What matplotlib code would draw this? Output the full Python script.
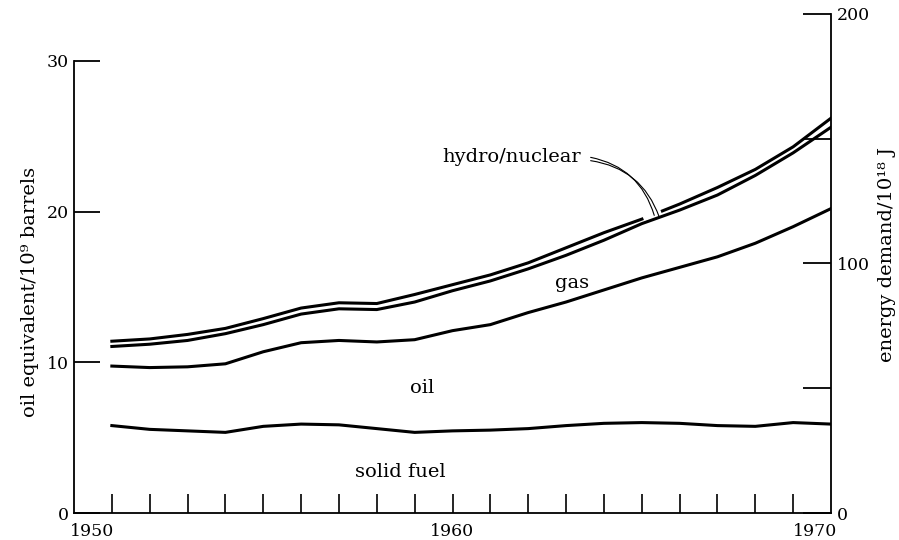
import numpy as np
import matplotlib
matplotlib.use("Agg")
import matplotlib.pyplot as plt

plt.rcParams['font.family'] = ['DejaVu Serif']

# years and stacked totals (oil equivalent / 10^9 barrels)
years = np.arange(1951, 1971)
solid_fuel = [5.8, 5.55, 5.45, 5.35, 5.75, 5.9, 5.85, 5.6, 5.35, 5.45,
              5.5, 5.6, 5.8, 5.95, 6.0, 5.95, 5.8, 5.75, 6.0, 5.9]
oil_top = [9.75, 9.65, 9.7, 9.9, 10.7, 11.3, 11.45, 11.35, 11.5, 12.1,
           12.5, 13.3, 14.0, 14.8, 15.6, 16.3, 17.0, 17.9, 19.0, 20.2]
gas_top = [11.05, 11.2, 11.45, 11.9, 12.5, 13.2, 13.55, 13.5, 14.0, 14.75,
           15.4, 16.2, 17.1, 18.1, 19.2, 20.1, 21.1, 22.4, 23.9, 25.6]
total = [11.4, 11.55, 11.85, 12.25, 12.9, 13.6, 13.95, 13.9, 14.5, 15.15,
         15.8, 16.6, 17.6, 18.6, 19.5, 20.5, 21.6, 22.8, 24.3, 26.2]

left_ticks = [0, 10, 20, 30]
right_ticks = [0, 50, 100, 150, 200]
right_labels = ['0', '', '100', '', '200']
year_labels = ['1950', '1960', '1970']
year_label_pos = [1950.48, 1960.0, 1969.58]

J_PER_BARREL = 6.04  # 10^18 J per 10^9 barrels (right/left scale ratio)

fig = plt.figure(figsize=(8.99, 5.40), dpi=100)
ax = fig.add_axes([74 / 899, 27 / 540, 757 / 899, 499 / 540])
ax2 = ax.twinx()

lw = 2.2
for series in (solid_fuel, oil_top, gas_top, total):
    ax.plot(years, series, color='black', lw=lw, solid_joinstyle='round')

# small break in the top line where the leader touches
gap_x = np.array([1965.1, 1965.45])
ax.plot(gap_x, np.interp(gap_x, years, total), color='white', lw=lw + 1.2)

ax.set_xlim(1950, 1970)
ax.set_ylim(0, 200 / J_PER_BARREL)
ax2.set_ylim(0, 200)

# spines
ax.spines['top'].set_visible(False)
ax.spines['right'].set_visible(False)
ax.spines['left'].set_bounds(0, 30)
for s in ('top', 'left', 'bottom'):
    ax2.spines[s].set_visible(False)
for sp in (ax.spines['left'], ax.spines['bottom'], ax2.spines['right']):
    sp.set_linewidth(1.3)

# x ticks: labels without marks, inward year marks
ax.xaxis.remove_overlapping_locs = False
ax.set_xticks(year_label_pos, year_labels)
ax.set_xticks(np.arange(1951, 1970), minor=True)
ax.tick_params(axis='x', which='major', length=0, pad=7, labelsize=12.5)
ax.tick_params(axis='x', which='minor', direction='in', length=14, width=1.2)

ax.set_yticks(left_ticks)
ax.tick_params(axis='y', direction='in', length=19, width=1.3, pad=4, labelsize=12.5)

ax2.set_yticks(right_ticks, right_labels)
ax2.tick_params(axis='y', direction='in', length=20, width=1.3, pad=4, labelsize=12.5)

fig.text(30 / 899, 1 - 292 / 540, 'oil equivalent/10⁹ barrels', rotation=90,
         ha='center', va='center', fontsize=14)
fig.text(887 / 899, 1 - 254 / 540, 'energy demand/10¹⁸ J', rotation=90,
         ha='center', va='center', fontsize=14)

# in-plot labels
ax.text(1961.57, 23.62, 'hydro/nuclear', ha='center', va='center', fontsize=14)
ax.text(1963.16, 15.26, 'gas', ha='center', va='center', fontsize=14)
ax.text(1959.19, 8.3, 'oil', ha='center', va='center', fontsize=14)
ax.text(1958.61, 2.7, 'solid fuel', ha='center', va='center', fontsize=14)

# double leader from label to the hydro/nuclear band
for dy in (0.0, -0.22):
    ax.annotate('', xy=(1965.33 - dy * 0.6, 19.75 + dy * 0.5),
                xytext=(1963.65, 23.6 + dy),
                arrowprops=dict(arrowstyle='-', lw=0.8, color='black',
                                connectionstyle='arc3,rad=-0.3',
                                shrinkA=0, shrinkB=0))

fig.savefig('out.png', dpi=100)
